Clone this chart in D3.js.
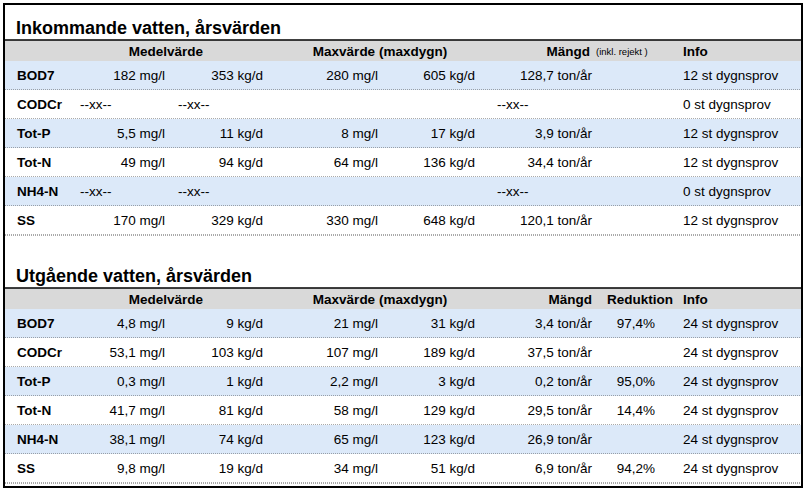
<!DOCTYPE html>
<html><head><meta charset="utf-8">
<script src="https://cdn.jsdelivr.net/npm/d3@7"></script>
<style>body{margin:0;background:#fff}text{font-family:"Liberation Sans",Arial,sans-serif}</style>
</head><body><svg id="c"></svg>
<script>
var width = 807, height = 494;

// data
var params = ["BOD7", "CODCr", "Tot-P", "Tot-N", "NH4-N", "SS"];
var inMedelMg = ["182 mg/l", null, "5,5 mg/l", "49 mg/l", null, "170 mg/l"];
var inMedelKg = ["353 kg/d", null, "11 kg/d", "94 kg/d", null, "329 kg/d"];
var inMaxMg = ["280 mg/l", "", "8 mg/l", "64 mg/l", "", "330 mg/l"];
var inMaxKg = ["605 kg/d", "", "17 kg/d", "136 kg/d", "", "648 kg/d"];
var inMangd = ["128,7 ton/år", null, "3,9 ton/år", "34,4 ton/år", null, "120,1 ton/år"];
var inInfo = ["12 st dygnsprov", "0 st dygnsprov", "12 st dygnsprov", "12 st dygnsprov", "0 st dygnsprov", "12 st dygnsprov"];

var utMedelMg = ["4,8 mg/l", "53,1 mg/l", "0,3 mg/l", "41,7 mg/l", "38,1 mg/l", "9,8 mg/l"];
var utMedelKg = ["9 kg/d", "103 kg/d", "1 kg/d", "81 kg/d", "74 kg/d", "19 kg/d"];
var utMaxMg = ["21 mg/l", "107 mg/l", "2,2 mg/l", "58 mg/l", "65 mg/l", "34 mg/l"];
var utMaxKg = ["31 kg/d", "189 kg/d", "3 kg/d", "129 kg/d", "123 kg/d", "51 kg/d"];
var utMangd = ["3,4 ton/år", "37,5 ton/år", "0,2 ton/år", "29,5 ton/år", "26,9 ton/år", "6,9 ton/år"];
var utRed = ["97,4%", "", "95,0%", "14,4%", "", "94,2%"];
var utInfo = ["24 st dygnsprov", "24 st dygnsprov", "24 st dygnsprov", "24 st dygnsprov", "24 st dygnsprov", "24 st dygnsprov"];

var svg = d3.select("#c").attr("width", width).attr("height", height);

svg.append("rect").attr("x", 4).attr("y", 4).attr("width", 798).attr("height", 483)
	.attr("fill", "#fff").attr("stroke", "#000").attr("stroke-width", 2);

var rowH = 29;

function section(top, title, cols) {
	svg.append("text").attr("x", 16).attr("y", top + 30).attr("font-size", "18px")
		.attr("font-weight", "bold").text(title);
	var hy = top + 36;
	svg.append("rect").attr("x", 5).attr("y", hy).attr("width", 796).attr("height", 21).attr("fill", "#d9d9d9");
	svg.append("line").attr("x1", 5).attr("x2", 801).attr("y1", hy).attr("y2", hy).attr("stroke", "#000").attr("stroke-width", 1.5);
	var hdr = [
		{t: "Medelvärde", x: 166, a: "middle"},
		{t: "Maxvärde (maxdygn)", x: 380, a: "middle"},
		{t: "Mängd", x: cols.red ? 592 : 590, a: "end"},
		{t: "Info", x: 683, a: "start"}
	];
	if (cols.red) hdr.push({t: "Reduktion", x: 673, a: "end"});
	hdr.forEach(function (h) {
		svg.append("text").attr("x", h.x).attr("y", hy + 16).attr("font-size", "13.5px")
			.attr("font-weight", "bold").attr("text-anchor", h.a).text(h.t);
	});
	if (!cols.red) svg.append("text").attr("x", 596).attr("y", hy + 15).attr("font-size", "9.5px").text("(inkl. rejekt )");

	var ry = hy + 21;
	var y = d3.scaleBand().domain(params).range([ry, ry + rowH * params.length]);
	var g = svg.selectAll(null).data(params).enter().append("g")
		.attr("transform", function (d) { return "translate(0," + y(d) + ")"; });
	g.append("rect").attr("x", 5).attr("width", 796).attr("height", y.bandwidth())
		.attr("fill", function (d, i) { return i % 2 == 0 ? "#dce9f9" : "#fff"; });
	g.append("line").attr("x1", 5).attr("x2", 801).attr("y1", y.bandwidth()).attr("y2", y.bandwidth())
		.attr("stroke", "#555").attr("stroke-dasharray", "1,1");
	g.append("text").attr("x", 17).attr("y", 19).attr("font-size", "13.5px").attr("font-weight", "bold").text(function (d) { return d; });

	var spec = [
		{v: cols.mg, x: 165, dash: 80},
		{v: cols.kg, x: 263, dash: 178},
		{v: cols.maxMg, x: 378},
		{v: cols.maxKg, x: 475},
		{v: cols.mangd, x: 592, dash: 497},
		{v: cols.red || [], x: 655},
	];
	spec.forEach(function (s) {
		g.append("text").attr("y", 19).attr("font-size", "13.5px")
			.attr("x", function (d, i) { return s.v[i] === null ? s.dash : s.x; })
			.attr("text-anchor", function (d, i) { return s.v[i] === null ? "start" : "end"; })
			.text(function (d, i) { return s.v[i] === null ? "--xx--" : (s.v[i] || ""); });
	});
	g.append("text").attr("x", 683).attr("y", 19).attr("font-size", "13.5px").text(function (d, i) { return cols.info[i]; });
}

section(4, "Inkommande vatten, årsvärden",
	{mg: inMedelMg, kg: inMedelKg, maxMg: inMaxMg, maxKg: inMaxKg, mangd: inMangd, info: inInfo});
section(252, "Utgående vatten, årsvärden",
	{mg: utMedelMg, kg: utMedelKg, maxMg: utMaxMg, maxKg: utMaxKg, mangd: utMangd, red: utRed, info: utInfo});
</script></body></html>
